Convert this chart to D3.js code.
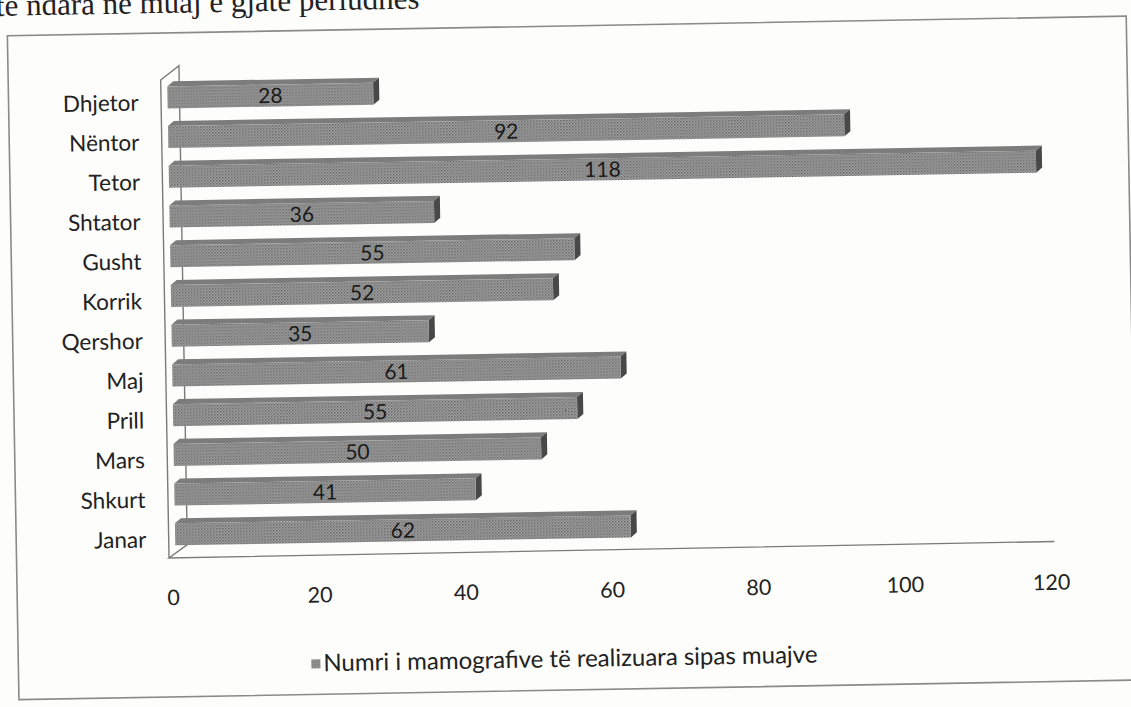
<!DOCTYPE html>
<html>
<head>
<meta charset="utf-8">
<script src="https://cdnjs.cloudflare.com/ajax/libs/d3/7.8.5/d3.min.js"></script>
<style>
body { margin: 0; background: #fdfdfc; }
svg { display: block; }
</style>
</head>
<body>
<svg id="chart" width="1131" height="707"></svg>
<script>
// data
var months = ["Janar", "Shkurt", "Mars", "Prill", "Maj", "Qershor", "Korrik", "Gusht", "Shtator", "Tetor", "Nëntor", "Dhjetor"];
var counts = [62, 41, 50, 55, 61, 35, 52, 55, 36, 118, 92, 28];
var xTicks = [0, 20, 40, 60, 80, 100, 120];
var seriesName = "Numri i mamografive të realizuara sipas muajve";
var pageText = "të ndara në muaj e gjatë periudhës";

var svg = d3.select("#chart");
var font = "Lato, 'Open Sans', sans-serif";

var defs = svg.append("defs");
var pat = defs.append("pattern")
    .attr("id", "dots")
    .attr("width", 3).attr("height", 3)
    .attr("patternUnits", "userSpaceOnUse");
pat.append("rect").attr("width", 3).attr("height", 3).attr("fill", "#a9a9a9");
pat.append("rect").attr("width", 1.5).attr("height", 1.5).attr("fill", "#5e5e5e");
pat.append("rect").attr("x", 1.5).attr("y", 1.5).attr("width", 1.5).attr("height", 1.5).attr("fill", "#7a7a7a");

// the scan is tilted by about one degree
var page = svg.append("g").attr("transform", "rotate(-1,565,353)");

page.append("text")
    .attr("x", 2).attr("y", 6)
    .style("font-family", "'Liberation Serif', serif")
    .style("font-size", "31px")
    .attr("fill", "#222")
    .text(pageText);

// chart frame
page.append("rect")
    .attr("x", 13).attr("y", 26)
    .attr("width", 1119).attr("height", 664)
    .attr("fill", "none")
    .attr("stroke", "#8a8a8a")
    .attr("stroke-width", 1.6);

var x = d3.scaleLinear().domain([0, 120]).range([172, 1054]);
var xLab = d3.scaleLinear().domain([0, 120]).range([169, 1047]);
var y = d3.scalePoint().domain(months.slice().reverse()).range([90.5, 527.5]);

var half = 11, dx = 6, dy = 5;

// side wall and floor of the 3d plot area
var wx = 165.5, bx = 184;
page.append("path")
    .attr("d", "M" + wx + ",551 L" + wx + ",73 L" + bx + ",59 L" + bx + ",538 L" + wx + ",551 L1051,550")
    .attr("fill", "none")
    .attr("stroke", "#7a7a7a")
    .attr("stroke-width", 1.4);

var data = months.map(function(m, i) { return {month: m, value: counts[i]}; });

var bars = page.selectAll(".bar")
    .data(data)
    .enter().append("g")
    .attr("class", "bar");

bars.append("path") // top face
    .attr("d", function(d) {
      var x0 = x(0), x1 = x(d.value), t = y(d.month) - half;
      return "M" + x0 + "," + t + "L" + x1 + "," + t + "L" + (x1 + dx) + "," + (t - dy) + "L" + (x0 + dx) + "," + (t - dy) + "Z";
    })
    .attr("fill", "#7c7c7c");

bars.append("path") // end face
    .attr("d", function(d) {
      var x1 = x(d.value), t = y(d.month) - half, b = y(d.month) + half;
      return "M" + x1 + "," + t + "L" + (x1 + dx) + "," + (t - dy) + "L" + (x1 + dx) + "," + (b - dy) + "L" + x1 + "," + b + "Z";
    })
    .attr("fill", "#484848");

bars.append("rect") // front face
    .attr("x", x(0))
    .attr("y", function(d) { return y(d.month) - half; })
    .attr("width", function(d) { return x(d.value) - x(0); })
    .attr("height", half * 2)
    .attr("fill", "url(#dots)");

bars.append("text")
    .attr("x", function(d) { return (x(0) + x(d.value)) / 2; })
    .attr("y", function(d) { return y(d.month) + 7.5; })
    .attr("text-anchor", "middle")
    .style("font-family", font)
    .style("font-size", "21px")
    .attr("fill", "#1a1a1a")
    .text(function(d) { return d.value; });

// category axis
var yAxis = page.append("g")
    .attr("transform", "translate(143,5)")
    .call(d3.axisLeft(y).tickSize(0).tickPadding(0));
yAxis.select(".domain").remove();
yAxis.selectAll("text")
    .style("font-family", font)
    .style("font-size", "22.5px")
    .attr("fill", "#222");

// value axis labels
var xAxis = page.append("g")
    .attr("transform", "translate(0,583)")
    .call(d3.axisBottom(xLab).tickValues(xTicks).tickSize(0).tickPadding(0));
xAxis.select(".domain").remove();
xAxis.selectAll("text")
    .style("font-family", font)
    .style("font-size", "21.5px")
    .attr("fill", "#222");

// legend
page.append("rect")
    .attr("x", 306).attr("y", 655)
    .attr("width", 9).attr("height", 9)
    .attr("fill", "url(#dots)");
page.append("text")
    .attr("x", 318).attr("y", 667)
    .style("font-family", font)
    .style("font-size", "24px")
    .attr("fill", "#222")
    .text(seriesName);
</script>
</body>
</html>
